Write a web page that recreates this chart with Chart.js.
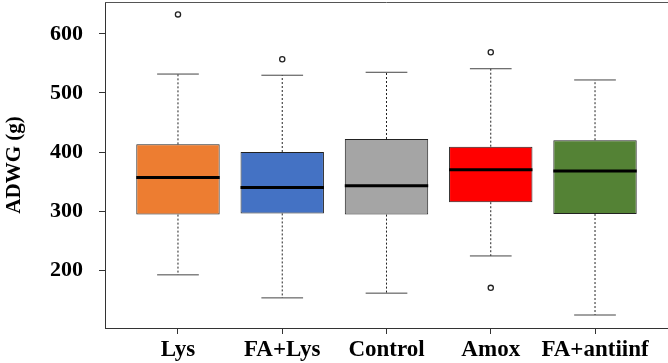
<!DOCTYPE html>
<html>
<head>
<meta charset="utf-8">
<script src="https://cdn.jsdelivr.net/npm/chart.js@4/dist/chart.umd.min.js"></script>
<style>
  body { margin: 0; background: #fff; }
  #wrap { width: 668px; height: 363px; }
</style>
</head>
<body>
<div id="wrap"><canvas id="adwgchart"></canvas></div>
<script>
// groups and box statistics (g)
const categories = ['Lys', 'FA+Lys', 'Control', 'Amox', 'FA+antiinf'];
const whiskerLow = [192, 153, 161, 224, 124];
const q1 = [294, 296, 294, 315, 295];
const median = [357, 340, 343, 370, 368];
const q3 = [413, 400, 422, 409, 420];
const whiskerHigh = [532, 530, 535, 541, 522];
const outliers = [[633], [557], [], [569, 170], []];
const boxColors = ['#ED7D31', '#4472C4', '#A5A5A5', '#FF0000', '#548235'];
const yTicks = [200, 300, 400, 500, 600];

const serif = "'Liberation Serif', 'Times New Roman', serif";

const boxData = categories.map((c, i) => ({ x: i + 1, y: [q1[i], q3[i]] }));
const outlierData = [];
outliers.forEach((list, i) => list.forEach(v => outlierData.push({ x: i + 1, y: v })));

// whiskers, caps and medians drawn through the chart scales
const boxExtras = {
	id: 'boxExtras',
	afterDatasetsDraw(chart) {
		const ctx = chart.ctx;
		const xs = chart.scales.x;
		const ys = chart.scales.y;
		ctx.save();
		categories.forEach((c, i) => {
			const cx = xs.getPixelForValue(i + 1);
			const capL = xs.getPixelForValue(i + 1 - 0.2);
			const capR = xs.getPixelForValue(i + 1 + 0.2);
			const boxL = xs.getPixelForValue(i + 1 - 0.4);
			const boxR = xs.getPixelForValue(i + 1 + 0.4);

			ctx.strokeStyle = '#222';
			ctx.lineWidth = 1;
			ctx.setLineDash([2, 2]);
			ctx.beginPath();
			ctx.moveTo(cx, ys.getPixelForValue(q3[i]));
			ctx.lineTo(cx, ys.getPixelForValue(whiskerHigh[i]));
			ctx.moveTo(cx, ys.getPixelForValue(q1[i]));
			ctx.lineTo(cx, ys.getPixelForValue(whiskerLow[i]));
			ctx.stroke();

			ctx.setLineDash([]);
			ctx.strokeStyle = '#444';
			ctx.beginPath();
			ctx.moveTo(capL, ys.getPixelForValue(whiskerHigh[i]));
			ctx.lineTo(capR, ys.getPixelForValue(whiskerHigh[i]));
			ctx.moveTo(capL, ys.getPixelForValue(whiskerLow[i]));
			ctx.lineTo(capR, ys.getPixelForValue(whiskerLow[i]));
			ctx.stroke();

			ctx.strokeStyle = '#000';
			ctx.lineWidth = 3;
			ctx.beginPath();
			ctx.moveTo(boxL, ys.getPixelForValue(median[i]));
			ctx.lineTo(boxR, ys.getPixelForValue(median[i]));
			ctx.stroke();
		});
		// top frame line
		const a = chart.chartArea;
		ctx.strokeStyle = '#555';
		ctx.lineWidth = 1;
		ctx.beginPath();
		ctx.moveTo(a.left, a.top + 0.5);
		ctx.lineTo(a.right, a.top + 0.5);
		ctx.stroke();
		ctx.restore();
	}
};

const adwgconfig = {
	type: 'bar',
	data: {
		datasets: [{
			type: 'bar',
			data: boxData,
			backgroundColor: boxColors,
			borderColor: '#222',
			borderWidth: 1,
			borderSkipped: false,
			categoryPercentage: 0.8,
			barPercentage: 1.0
		}, {
			type: 'scatter',
			data: outlierData,
			pointStyle: 'circle',
			pointRadius: 2.6,
			pointBorderWidth: 1.3,
			pointBorderColor: '#222',
			pointBackgroundColor: 'rgba(0,0,0,0)'
		}]
	},
	options: {
		responsive: true,
		maintainAspectRatio: false,
		animation: false,
		layout: { autoPadding: false, padding: { top: 2, right: 0, left: 0, bottom: 0 } },
		plugins: {
			legend: { display: false },
			tooltip: { enabled: false }
		},
		scales: {
			x: {
				type: 'linear',
				min: 0.3,
				max: 5.7,
				offset: false,
				afterBuildTicks: axis => { axis.ticks = categories.map((c, i) => ({ value: i + 1 })); },
				afterFit: axis => {
					axis.height = 35;
					axis.paddingLeft = 0;
					axis.paddingRight = 0;
				},
				grid: { offset: false, drawOnChartArea: false, drawTicks: true, tickLength: 6, color: '#333' },
				border: { display: true, color: '#333', width: 1 },
				ticks: {
					autoSkip: false,
					maxRotation: 0,
					padding: 2,
					color: '#000',
					font: { family: serif, size: 23, weight: 'bold' },
					callback: v => categories[v - 1]
				}
			},
			y: {
				min: 102,
				max: 654,
				afterBuildTicks: axis => { axis.ticks = yTicks.map(v => ({ value: v })); },
				afterFit: axis => {
					axis.width = 105;
					axis.paddingTop = 0;
					axis.paddingBottom = 0;
				},
				grid: { drawOnChartArea: false, drawTicks: true, tickLength: 6, color: '#333' },
				border: { display: true, color: '#333', width: 1 },
				ticks: {
					padding: 16,
					color: '#000',
					font: { family: serif, size: 22, weight: 'bold' }
				},
				title: {
					display: true,
					text: 'ADWG (g)',
					color: '#000',
					padding: { top: 2, bottom: 0 },
					font: { family: serif, size: 21, weight: 'bold' }
				}
			}
		}
	},
	plugins: [boxExtras]
};

const adwgchart = new Chart(document.getElementById('adwgchart'), adwgconfig);
</script>
</body>
</html>
